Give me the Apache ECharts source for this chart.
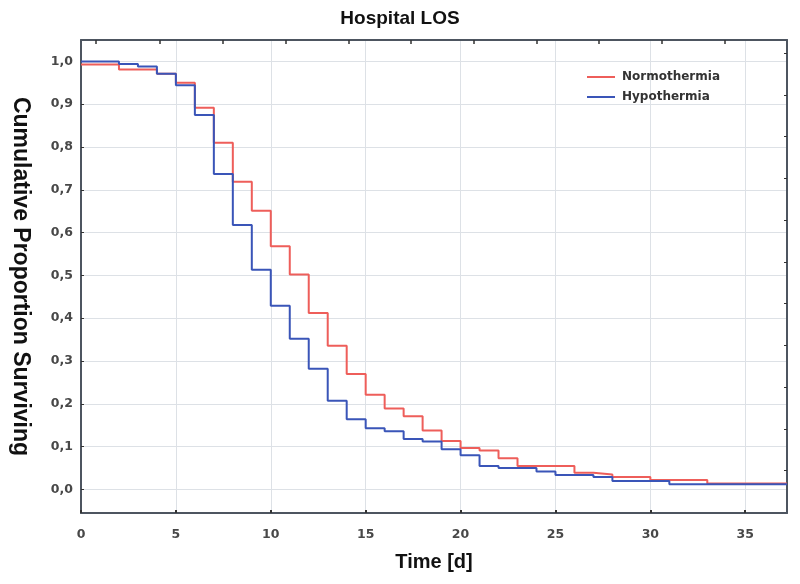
<!DOCTYPE html>
<html>
<head>
<meta charset="utf-8">
<script src="https://cdn.jsdelivr.net/npm/echarts@6/dist/echarts.min.js"></script>
<style>html,body{margin:0;padding:0;background:#fff}#c{width:800px;height:584px}</style>
</head>
<body>
<div id="c"></div>
<script>
// Kaplan-Meier style step data
var normoTimes  = [0, 2, 4, 5, 6, 7, 8, 9, 10, 11, 12, 13, 14, 15, 16, 17, 18, 19, 20, 21, 22, 23, 26, 27, 28, 30, 33, 37.2];
var normoValues = [0.993, 0.981, 0.971, 0.950, 0.892, 0.810, 0.719, 0.651, 0.568, 0.502, 0.412, 0.336, 0.270, 0.221, 0.189, 0.171, 0.138, 0.113, 0.097, 0.091, 0.073, 0.055, 0.039, 0.035, 0.029, 0.022, 0.014, 0.014];
var hypoTimes   = [0, 2, 3, 4, 5, 6, 7, 8, 9, 10, 11, 12, 13, 14, 15, 16, 17, 18, 19, 20, 21, 22, 24, 25, 27, 28, 31, 37.2];
var hypoValues  = [1.000, 0.994, 0.988, 0.971, 0.944, 0.875, 0.737, 0.618, 0.513, 0.429, 0.352, 0.282, 0.207, 0.164, 0.143, 0.136, 0.118, 0.112, 0.094, 0.080, 0.055, 0.050, 0.042, 0.034, 0.029, 0.020, 0.012, 0.012];
var xTicks = [0, 5, 10, 15, 20, 25, 30, 35];
var yTicks = [0.0, 0.1, 0.2, 0.3, 0.4, 0.5, 0.6, 0.7, 0.8, 0.9, 1.0];
var topTicks = [0.8, 4.15, 7.45, 10.8, 14.1, 17.4, 20.7, 24.0, 27.3, 30.6, 33.9];
var rightTicks = [0.044, 0.1415, 0.239, 0.336, 0.434, 0.531, 0.629, 0.726, 0.824, 0.921, 1.019];
var seriesNames = ['Normothermia', 'Hypothermia'];

function zip(a, b) { return a.map(function (v, i) { return [v, b[i]]; }); }

var chart = echarts.init(document.getElementById('c'), null, {renderer: 'canvas'});
var axisCol = '#4d5560';
var labelStyle = {fontFamily: 'DejaVu Sans', fontSize: 12.5, fontWeight: 'bold', color: '#484848'};
chart.setOption({
  animation: false,
  backgroundColor: '#ffffff',
  title: {
    text: 'Hospital LOS', left: 'center', top: 4,
    textStyle: {fontFamily: 'Liberation Sans', fontSize: 19, fontWeight: 'bold', color: '#111'}
  },
  legend: {
    orient: 'vertical', left: 582, top: 66, itemGap: 8,
    icon: 'rect', itemWidth: 28, itemHeight: 2,
    textStyle: {fontFamily: 'DejaVu Sans', fontSize: 12, fontWeight: 'bold', color: '#333', padding: [0, 0, 0, 2]},
    data: seriesNames
  },
  grid: {left: 81, right: 13, top: 40, bottom: 71, show: false},
  xAxis: [{
    type: 'value', min: 0, max: 37.2, position: 'bottom',
    name: 'Time [d]', nameLocation: 'middle', nameGap: 39,
    nameTextStyle: {fontFamily: 'Liberation Sans', fontSize: 20, fontWeight: 'bold', color: '#111'},
    axisLine: {show: true, onZero: false, lineStyle: {color: axisCol, width: 2}},
    axisTick: {show: true, inside: true, length: 3, customValues: xTicks, lineStyle: {color: '#333', width: 2}},
    axisLabel: Object.assign({customValues: xTicks, margin: 15, formatter: function (v) { return String(v); }}, labelStyle),
    splitLine: {show: true, lineStyle: {color: '#dde1e6', width: 1}}
  }, {
    type: 'value', min: 0, max: 37.2, position: 'top',
    axisLine: {show: true, onZero: false, lineStyle: {color: axisCol, width: 2}},
    axisTick: {show: true, inside: true, length: 4, customValues: topTicks, lineStyle: {color: '#333', width: 1.5}},
    axisLabel: {show: false},
    splitLine: {show: false}
  }],
  yAxis: [{
    type: 'value', min: -0.055, max: 1.05, position: 'left',
    name: 'Cumulative Proportion Surviving', nameLocation: 'middle', nameRotate: -90, nameGap: 49,
    nameTextStyle: {fontFamily: 'Liberation Sans', fontSize: 23, fontWeight: 'bold', color: '#111'},
    axisLine: {show: true, onZero: false, lineStyle: {color: axisCol, width: 2}},
    axisTick: {show: true, inside: true, length: 3, customValues: yTicks, lineStyle: {color: '#333', width: 1}},
    axisLabel: Object.assign({customValues: yTicks, margin: 8, formatter: function (v) { return v.toFixed(1).replace('.', ','); }}, labelStyle),
    splitLine: {show: true, lineStyle: {color: '#dde1e6', width: 1}}
  }, {
    type: 'value', min: -0.055, max: 1.05, position: 'right',
    axisLine: {show: true, onZero: false, lineStyle: {color: axisCol, width: 2}},
    axisTick: {show: true, inside: true, length: 3, customValues: rightTicks, lineStyle: {color: '#333', width: 1}},
    axisLabel: {show: false},
    splitLine: {show: false}
  }],
  series: [{
    name: seriesNames[0], type: 'line', step: 'end', showSymbol: false, symbol: 'none',
    color: '#ee5e5a',
    lineStyle: {color: '#ee5e5a', width: 2},
    data: zip(normoTimes, normoValues), z: 3
  }, {
    name: seriesNames[1], type: 'line', step: 'end', showSymbol: false, symbol: 'none',
    color: '#3a55b8',
    lineStyle: {color: '#3a55b8', width: 2},
    data: zip(hypoTimes, hypoValues), z: 4
  }]
});
</script>
</body>
</html>
